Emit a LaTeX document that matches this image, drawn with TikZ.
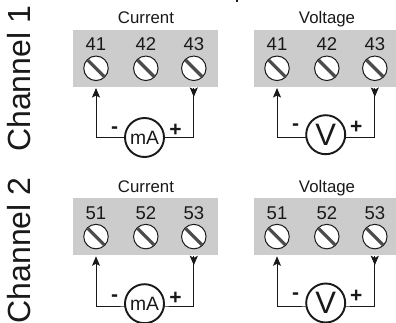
\documentclass[tikz,border=0pt]{standalone}
\usepackage{fontspec}
\setmainfont{Liberation Sans}
\usetikzlibrary{arrows.meta}
\definecolor{panelgray}{gray}{0.80}
\definecolor{ink}{gray}{0.10}
\definecolor{slotgray}{gray}{0.30}
\tikzset{
  x=1pt,y=-1pt,
  num/.style={font=\fontsize{18.5}{18.5}\selectfont,text=ink,inner sep=0pt,anchor=base},
  head/.style={font=\fontsize{16.8}{16.8}\selectfont,text=ink,inner sep=0pt,anchor=base},
  chan/.style={font=\fontsize{32}{32}\selectfont,text=ink,inner sep=0pt,rotate=90,anchor=base west},
  screwbody/.style={circle,draw=ink,fill=white,line width=1pt,minimum size=24.5pt,inner sep=0pt},
  slotline/.style={draw=slotgray,line width=3.2pt},
  wire/.style={draw=ink,line width=0.9pt},
  tip/.style={-{Stealth[length=9.5pt,width=8pt,inset=2pt]}},
  meterbase/.style={circle,draw=ink,fill=white,line width=1.9pt,minimum size=39pt,inner sep=0pt,text=ink},
  metera/.style={meterbase,font=\fontsize{19.3}{19.3}\selectfont},
  meterv/.style={meterbase,font=\fontsize{31}{31}\selectfont},
  sign/.style={font=\bfseries\fontsize{21}{21}\selectfont,text=ink,inner sep=0pt},
}
\newcommand{\screw}[3]{%
  \node[screwbody] (#3) at (#1,#2) {};
  \draw[slotline] (#3.north west) ++(0.6,0.6) -- ([shift={(-0.6,-0.6)}]#3.south east);
}
% #1 panel x, #2 panel top, #3 decade, #4 meter style, #5 meter text, #6 heading, #7 prefix, #8 panel width, #9 meter x
% \wy wire y, \my meter y, \sy sign y, \nl and \nr sign distances from the meter centre
\newcommand{\block}[9]{%
  \fill[panelgray] (#1,#2) rectangle (#1+#8,#2+56.6);
  \node[head] (#7h) at (#1+73,#2-6) {#6};
  \node[num] (#7a) at (#1+23,#2+20.7) {#31};
  \node[num] (#7b) at (#1+72.8,#2+20.7) {#32};
  \node[num] (#7c) at (#1+120.8,#2+20.7) {#33};
  \screw{#1+23}{#2+38.3}{#7s1}
  \screw{#1+72.8}{#2+38.3}{#7s2}
  \screw{#1+120.8}{#2+38.3}{#7s3}
  \coordinate (#7tl) at (#1+23,#2+58);
  \coordinate (#7tr) at (#1+120.8,#2+58);
  \coordinate (#7dr) at (#1+120.8,#2+67);
  \coordinate (#7wl) at (#1+23,\wy);
  \coordinate (#7wr) at (#1+120.8,\wy);
  \draw[wire,tip] (#7wl) -- (#7tl);
  \draw[wire] (#7wl) -- (#1+#9,\wy) -- (#7wr) -- (#7tr);
  \draw[wire,tip] (#7tr) -- (#7dr);
  \node[#4] (#7m) at (#1+#9,\my) {#5};
  \node[sign] (#7minus) at (#1+#9-\nl,\sy) {-};
  \node[sign] (#7plus) at (#1+#9+\nr,\sy) {+};
}
\begin{document}
\begin{tikzpicture}
\useasboundingbox (0,0) rectangle (396,323);
\fill[white] (0,0) rectangle (396,323);
\node[chan] (ch1) at (30.7,152) {Channel 1};
\node[chan] (ch2) at (30.7,323.5) {Channel 2};
\fill[ink] (236,0) rectangle (238,2.2);
\def\nl{30}\def\nr{31}
\def\wy{137.3}\def\my{137.5}\def\sy{130.5}
\block{73}{30}{4}{metera}{mA}{Current}{p}{145}{71.5}
\def\wy{306}\def\my{303.7}\def\sy{298.5}
\block{73}{198.3}{5}{metera}{mA}{Current}{r}{145}{71.5}
\def\nl{30}\def\nr{30.5}
\def\wy{137.3}\def\my{134.7}\def\sy{127.5}
\block{254}{30}{4}{meterv}{V}{Voltage}{q}{142}{71.7}
\def\wy{306}\def\my{303}\def\sy{296}
\block{254}{198.3}{5}{meterv}{V}{Voltage}{s}{142}{71.7}
\end{tikzpicture}
\end{document}
